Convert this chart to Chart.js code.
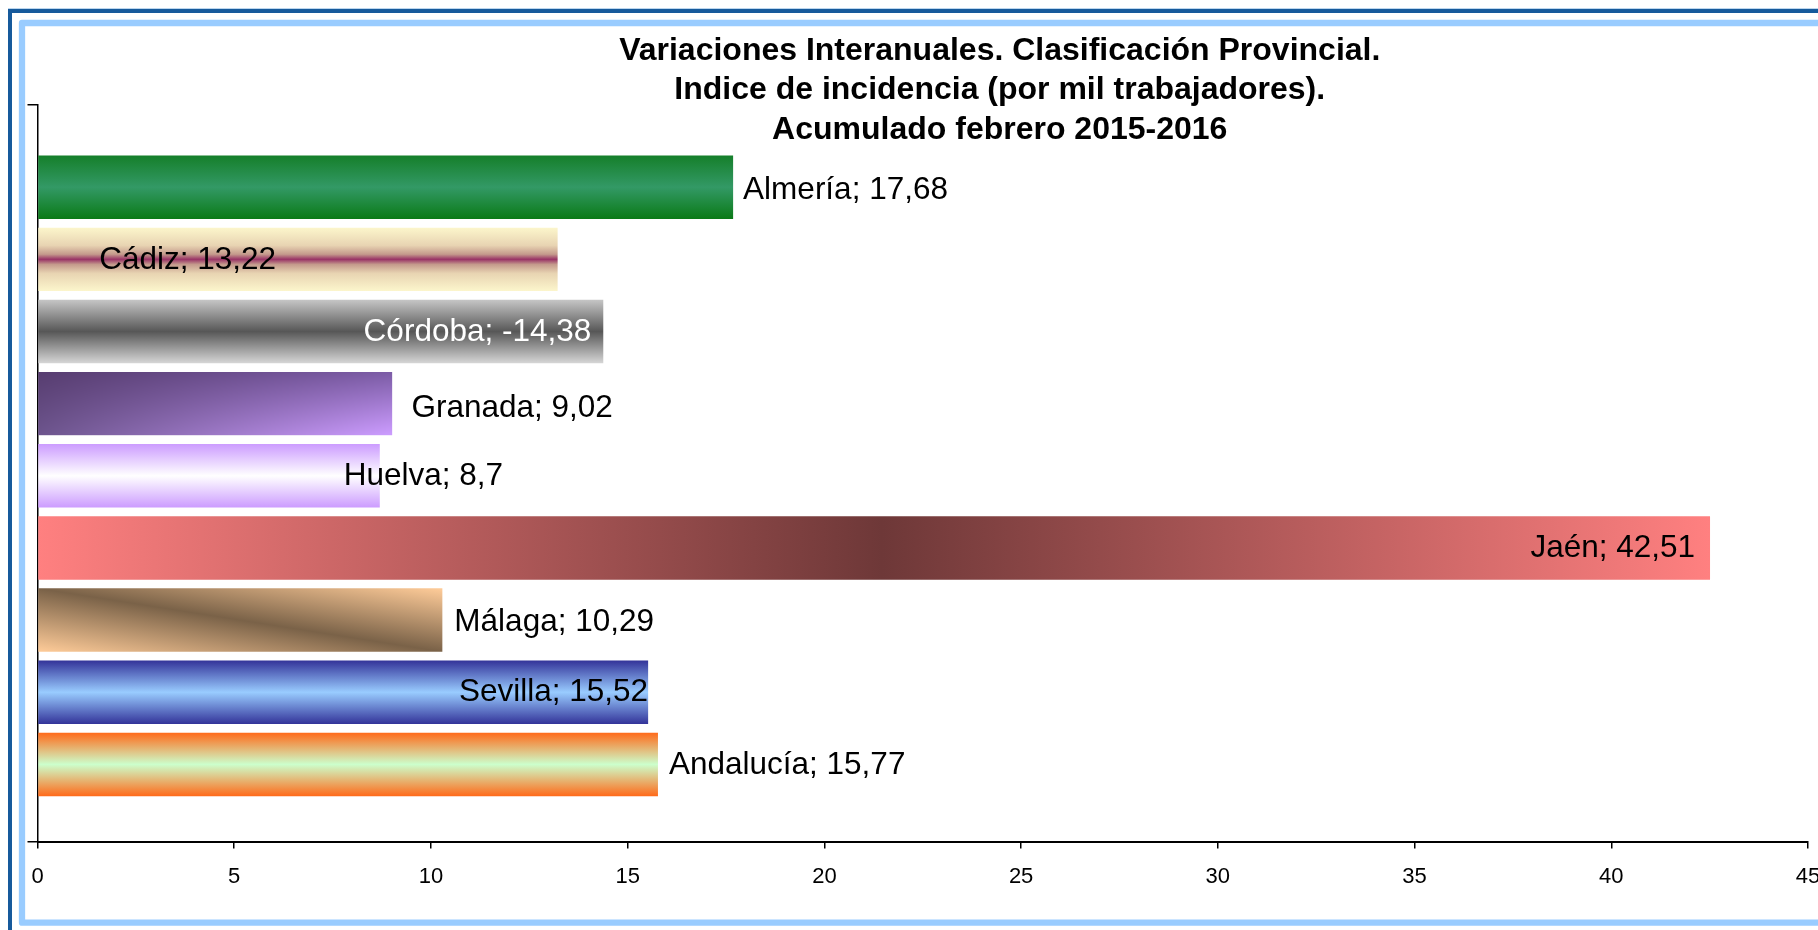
<!DOCTYPE html>
<html>
<head>
<meta charset="utf-8">
<script src="https://cdn.jsdelivr.net/npm/chart.js@4.4.1/dist/chart.umd.min.js"></script>
<style>
  html, body { margin: 0; padding: 0; background: #ffffff; overflow: hidden; }
  #wrap { position: absolute; left: 0; top: 0; width: 1818px; height: 930px; overflow: hidden; background: #fff; }
  #c { position: absolute; left: 0; top: 0; }
</style>
</head>
<body>
<div id="wrap"><canvas id="c" width="1972" height="930"></canvas></div>
<script>
// ---- data ----
const categories = ['Almería', 'Cádiz', 'Córdoba', 'Granada', 'Huelva', 'Jaén', 'Málaga', 'Sevilla', 'Andalucía'];
const values = [17.68, 13.22, -14.38, 9.02, 8.7, 42.51, 10.29, 15.52, 15.77];
const xTicks = [0, 5, 10, 15, 20, 25, 30, 35, 40, 45];
const titleLines = ['Variaciones Interanuales. Clasificación Provincial.', 'Indice de incidencia (por mil trabajadores).', 'Acumulado febrero 2015-2016'];

// ---- styles ----
const FONT = "'Liberation Sans', Arial, Helvetica, sans-serif";
const labelStyle = [
  { anchor: 'end',  align: 'left',  dx: 10,  dy: 3, color: '#000' },
  { anchor: 'base', align: 'left',  dx: 61,  dy: 1, color: '#000' },
  { anchor: 'end',  align: 'right', dx: -12, dy: 1, color: '#fff' },
  { anchor: 'end',  align: 'left',  dx: 19,  dy: 5, color: '#000' },
  { anchor: 'end',  align: 'left',  dx: -36, dy: 0, color: '#000' },
  { anchor: 'end',  align: 'right', dx: -15, dy: 0, color: '#000' },
  { anchor: 'end',  align: 'left',  dx: 12,  dy: 2, color: '#000' },
  { anchor: 'end',  align: 'right', dx: 0,   dy: 0, color: '#000' },
  { anchor: 'end',  align: 'left',  dx: 11,  dy: 1, color: '#000' }
];

function vGrad(ctx, top, bot, stops) {
  const g = ctx.createLinearGradient(0, top, 0, bot);
  stops.forEach(s => g.addColorStop(s[0], s[1]));
  return g;
}
function hex(c) { return [parseInt(c.slice(1, 3), 16), parseInt(c.slice(3, 5), 16), parseInt(c.slice(5, 7), 16)]; }
function bilinearPattern(ctx, x0, top, w, h, tl, tr, bl, br) {
  const W = Math.max(2, Math.round(w)), H = Math.max(2, Math.round(h));
  const off = document.createElement('canvas');
  off.width = W; off.height = H;
  const octx = off.getContext('2d');
  const img = octx.createImageData(W, H);
  const A = hex(tl), B = hex(tr), C = hex(bl), D = hex(br);
  for (let y = 0; y < H; y++) {
    const v = y / (H - 1);
    for (let x = 0; x < W; x++) {
      const u = x / (W - 1);
      const p = (y * W + x) * 4;
      for (let k = 0; k < 3; k++) {
        const t = A[k] + (B[k] - A[k]) * u;
        const b = C[k] + (D[k] - C[k]) * u;
        img.data[p + k] = Math.round(t + (b - t) * v);
      }
      img.data[p + 3] = 255;
    }
  }
  octx.putImageData(img, 0, 0);
  const pat = ctx.createPattern(off, 'no-repeat');
  pat.setTransform(new DOMMatrix([w / W, 0, 0, h / H, x0, top]));
  return pat;
}
function makeGradient(ctx, i, x0, x1, top, bot) {
  switch (i) {
    case 0: return vGrad(ctx, top, bot, [[0, '#157f2a'], [0.5, '#339966'], [1, '#0a7a16']]);
    case 1: return vGrad(ctx, top, bot, [[0, '#fcf6cc'], [0.28, '#e8d4b2'], [0.42, '#c49a8c'], [0.5, '#993366'], [0.58, '#c49a8c'], [0.72, '#e8d4b2'], [1, '#fcf6cc']]);
    case 2: return vGrad(ctx, top, bot, [[0, '#c6c6c6'], [0.5, '#575757'], [1, '#d6d6d6']]);
    case 3: return bilinearPattern(ctx, x0, top, x1 - x0, bot - top, '#573d70', '#7c5ca6', '#6c548c', '#cc9cff');
    case 4: return vGrad(ctx, top, bot, [[0, '#cc9cff'], [0.5, '#ffffff'], [1, '#cc9cff']]);
    case 5: {
      const g = ctx.createLinearGradient(x0, 0, x1, 0);
      g.addColorStop(0, '#ff8080'); g.addColorStop(0.505, '#6e3838'); g.addColorStop(1, '#ff8080');
      return g;
    }
    case 6: {
      const w = x1 - x0, h = bot - top;
      const cx = (x0 + x1) / 2, cy = (top + bot) / 2;
      const L = Math.hypot(w, h);
      const k = (w * h) / L;
      const ux = h / L, uy = -w / L;
      const g = ctx.createLinearGradient(cx - k * ux, cy - k * uy, cx + k * ux, cy + k * uy);
      g.addColorStop(0, '#ffcc99'); g.addColorStop(0.5, '#7a6248'); g.addColorStop(1, '#ffcc99');
      return g;
    }
    case 7: return vGrad(ctx, top, bot, [[0, '#333399'], [0.5, '#99ccff'], [1, '#333399']]);
    case 8: return vGrad(ctx, top, bot, [[0, '#ff6a1a'], [0.5, '#ccffcc'], [1, '#ff6a1a']]);
  }
  return '#888';
}

const framePlugin = {
  id: 'frame',
  beforeDraw(chart) {
    const ctx = chart.ctx;
    ctx.save();
    ctx.fillStyle = '#ffffff';
    ctx.fillRect(0, 0, chart.width, chart.height);
    // outer dark blue frame
    ctx.fillStyle = '#bcd6ee';
    ctx.fillRect(8, 8, chart.width, 1);
    ctx.strokeStyle = '#165a9c';
    ctx.lineWidth = 4;
    ctx.beginPath();
    ctx.moveTo(10, chart.height + 20);
    ctx.lineTo(10, 11);
    ctx.lineTo(chart.width + 20, 11);
    ctx.stroke();
    // inner light blue frame
    ctx.strokeStyle = '#99ccff';
    ctx.lineWidth = 6.3;
    ctx.lineJoin = 'round';
    ctx.beginPath();
    ctx.moveTo(chart.width + 20, 922.7);
    ctx.lineTo(22, 922.7);
    ctx.lineTo(22, 23);
    ctx.lineTo(chart.width + 20, 23);
    ctx.stroke();
    ctx.restore();
  }
};

const labelPlugin = {
  id: 'barLabels',
  afterDatasetsDraw(chart) {
    const ctx = chart.ctx;
    const meta = chart.getDatasetMeta(0);
    ctx.save();
    ctx.font = '31.5px ' + FONT;
    ctx.textBaseline = 'middle';
    meta.data.forEach((el, i) => {
      const st = labelStyle[i];
      const txt = categories[i] + '; ' + String(values[i]).replace('.', ',');
      const ax = st.anchor === 'base' ? el.base : el.x;
      ctx.textAlign = st.align;
      ctx.fillStyle = st.color;
      ctx.fillText(txt, ax + st.dx, el.y + st.dy);
    });
    ctx.restore();
  }
};

const canvas = document.getElementById('c');
new Chart(canvas, {
  type: 'bar',
  data: {
    datasets: [{
      data: values.map((v, i) => ({ x: Math.abs(v), y: i })),
      backgroundColor: (c) => {
        const chart = c.chart;
        const xs = chart.scales.x, ys = chart.scales.y;
        if (!xs || !ys || !chart.chartArea || c.dataIndex === undefined) return '#888';
        const i = c.dataIndex;
        const x0 = xs.getPixelForValue(0), x1 = xs.getPixelForValue(Math.abs(values[i]));
        const yc = ys.getPixelForValue(i);
        const half = Math.abs(ys.getPixelForValue(1) - ys.getPixelForValue(0)) * 0.88 / 2;
        return makeGradient(chart.ctx, i, x0, x1, yc - half, yc + half);
      },
      borderWidth: 0,
      barPercentage: 0.88,
      categoryPercentage: 1
    }]
  },
  options: {
    indexAxis: 'y',
    responsive: false,
    animation: false,
    devicePixelRatio: 1,
    layout: { padding: { left: 27.5, right: 0, top: 0, bottom: 25 } },
    plugins: {
      legend: { display: false },
      tooltip: { enabled: false },
      title: {
        display: true,
        text: titleLines,
        color: '#000',
        font: { family: FONT, size: 32, weight: 'bold', lineHeight: 1.23 },
        padding: { top: 31.5, bottom: -44.6 }
      }
    },
    scales: {
      x: {
        type: 'linear',
        min: 0,
        max: 45,
        afterBuildTicks: (s) => { s.ticks = xTicks.map(v => ({ value: v })); },
        afterFit: (s) => { s.paddingRight = 1972 - 1808; },
        border: { display: true, color: '#000', width: 2 },
        grid: { drawOnChartArea: false, drawTicks: true, tickLength: 7, color: '#000', lineWidth: 1.5 },
        ticks: { color: '#000', font: { family: FONT, size: 22 }, padding: 15, maxRotation: 0, autoSkip: false }
      },
      y: {
        type: 'linear',
        reverse: true,
        offset: false,
        min: -1.14,
        max: 9.07,
        afterBuildTicks: (s) => { s.ticks = [{ value: s.min }, { value: s.max }]; },
        border: { display: true, color: '#000', width: 1.5 },
        grid: { offset: false, drawOnChartArea: false, drawTicks: true, tickLength: 10, color: '#000', lineWidth: 1.5 },
        ticks: { display: false }
      }
    }
  },
  plugins: [framePlugin, labelPlugin]
});
</script>
</body>
</html>
